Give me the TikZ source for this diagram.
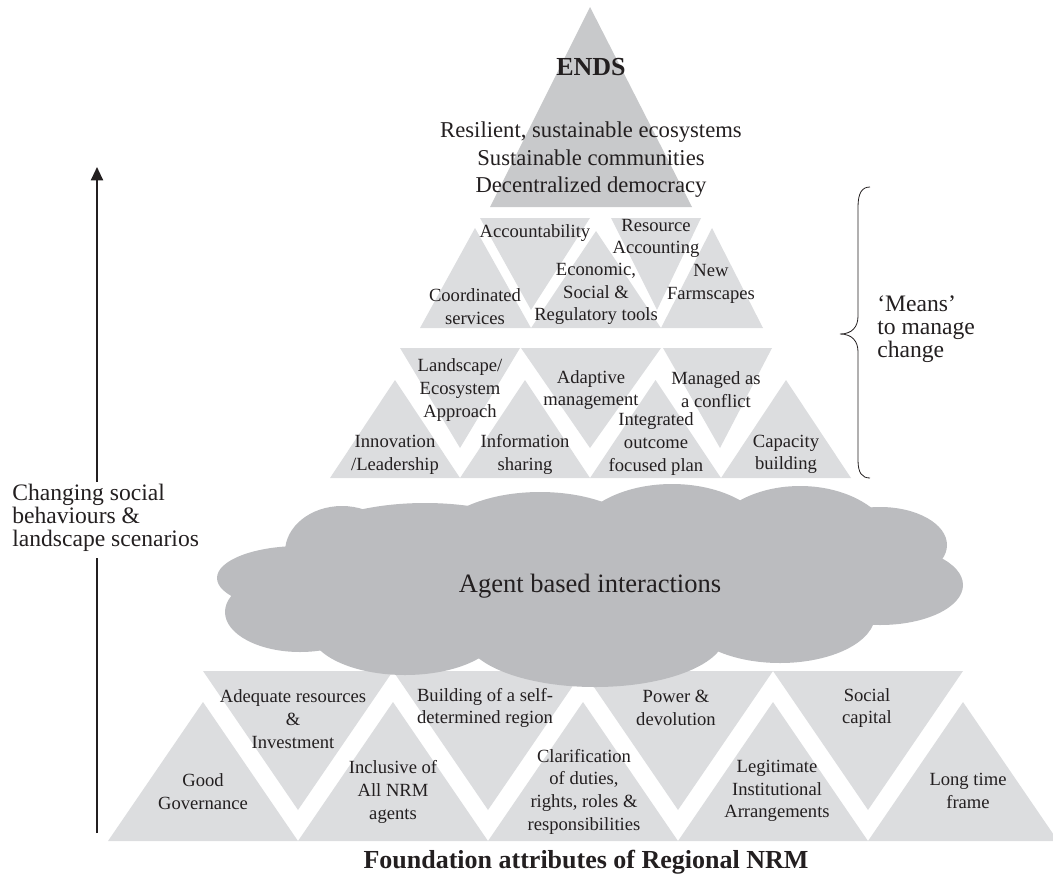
\documentclass[tikz,border=0pt]{standalone}
\usepackage{fontspec}
\setmainfont{Liberation Serif}
\usetikzlibrary{arrows.meta}
\definecolor{topgray}{HTML}{C8C9CB}
\definecolor{tiergray}{HTML}{DCDDDF}
\definecolor{cloudgray}{HTML}{BBBCBF}
\definecolor{txt}{HTML}{231F20}
\begin{document}
\begin{tikzpicture}[x=0.75pt,y=-0.75pt,
  tierfill/.style={fill=tiergray},
  topfill/.style={fill=topgray},
  cloudfill/.style={fill=cloudgray},
  lbl/.style={align=center,inner sep=0pt,text=txt,font=\fontsize{13.95}{17}\selectfont},
  endsl/.style={align=center,inner sep=0pt,text=txt,font=\fontsize{17}{20.6}\selectfont},
  sidel/.style={align=left,inner sep=0pt,text=txt,anchor=west,font=\fontsize{17.7}{17.3}\selectfont},
  boldl/.style={inner sep=0pt,text=txt,font=\bfseries\fontsize{19.5}{23}\selectfont},
  agentl/.style={inner sep=0pt,text=txt,font=\fontsize{19.9}{24}\selectfont},
  arrowline/.style={draw=txt,line width=1.5pt},
  bracestyle/.style={draw=txt,line width=0.6pt}]
\useasboundingbox (0,0) rectangle (1053,882);

% ---------- top triangle (ENDS)
\fill[topfill] (490,207) -- (590,7) -- (692,207) -- cycle;

% ---------- tier 2
\fill[tierfill] (420,328) -- (475,228) -- (531,328) -- cycle;   % coordinated
\fill[tierfill] (531,328) -- (596,231) -- (661,328) -- cycle;   % economic
\fill[tierfill] (661,328) -- (712,228) -- (763,328) -- cycle;   % farmscapes
\fill[tierfill] (480,218) -- (590,218) -- (531,310) -- cycle;   % accountability
\fill[tierfill] (611,218) -- (701,218) -- (657,310) -- cycle;   % resource

% ---------- tier 3
\foreach \a/\b in {330/460,460/590,590/721,721/851}{
  \fill[tierfill] (\a,478) -- ({(\a+\b)/2},380) -- (\b,478) -- cycle;}
\fill[tierfill] (400,348) -- (520,348) -- (460,448) -- cycle;   % landscape
\fill[tierfill] (521,348) -- (661,348) -- (590,448) -- cycle;   % adaptive
\fill[tierfill] (663,348) -- (772,348) -- (720,448) -- cycle;   % managed

% ---------- bottom row
\foreach \c in {203,393,583,773,963}{
  \fill[tierfill] (\c-95,841) -- (\c,702) -- (\c+95,841) -- cycle;}
\foreach \c in {203,393,583,773}{
  \fill[tierfill] (\c,671) -- (\c+190,671) -- (\c+95,810) -- cycle;}

% ---------- cloud
\begin{scope}[cloudfill]
\fill (300,578) ellipse [x radius=83,y radius=32];
\fill (300,612) ellipse [x radius=75,y radius=40];
\fill (342,552) ellipse [x radius=57,y radius=46];
\fill (425,562) ellipse [x radius=140,y radius=59];
\fill (540,548) ellipse [x radius=110,y radius=56];
\fill (672,545) ellipse [x radius=100,y radius=61];
\fill (800,550) ellipse [x radius=95,y radius=64];
\fill (880,545) ellipse [x radius=67,y radius=38];
\fill (880,585) ellipse [x radius=83,y radius=40];
\fill (780,615) ellipse [x radius=95,y radius=48];
\fill (595,635) ellipse [x radius=130,y radius=52];
\fill (405,630) ellipse [x radius=95,y radius=45];
\fill (300,578) -- (342,552) -- (425,562) -- (540,548) -- (672,545) -- (800,550) -- (880,545)
  -- (880,585) -- (780,615) -- (595,635) -- (405,630) -- (300,612) -- cycle;
\end{scope}

% ---------- texts top
\node[boldl] (ends) at (591,67) {ENDS};
\node[endsl] (endsgoals) at (591,160) {Resilient, sustainable ecosystems\\Sustainable communities\\Decentralized democracy};

% tier 2 texts
\node[lbl] (accountability) at (535,233) {Accountability};
\node[lbl] (resource) at (656,238.5) {Resource\\Accounting};
\node[lbl] (economic) at (596,294) {Economic,\\Social \&\\Regulatory tools};
\node[lbl] (coordinated) at (475,306.5) {Coordinated\\services};
\node[lbl] (farmscapes) at (711,284) {New\\Farmscapes};

% tier 3 texts
\node[lbl] (landscape) at (460,390) {Landscape/\\Ecosystem\\Approach};
\node[lbl] (adaptive) at (591,390) {Adaptive\\management};
\node[lbl] (managed) at (716,389.5) {Managed as\\a conflict};
\node[lbl] (innovation) at (395,454.5) {Innovation\\/Leadership};
\node[lbl] (information) at (525,454.5) {Information\\sharing};
\node[lbl] (integrated) at (656,444) {Integrated\\outcome\\focused plan};
\node[lbl] (capacity) at (786,454.5) {Capacity\\building};

% cloud text
\node[agentl] (agent) at (590,586) {Agent based interactions};

% bottom texts
\node[lbl] (good) at (203,791.5) {Good\\Governance};
\node[lbl] (adequate) at (293,719) {Adequate resources\\\&\\Investment};
\node[lbl] (inclusive) at (393,792) {Inclusive of\\All NRM\\agents};
\node[lbl] (building) at (485,708) {Building of a self-\\determined region};
\node[lbl] (clarification) at (584,791.5) {Clarification\\of duties,\\rights, roles \&\\responsibilities};
\node[lbl] (power) at (676,708) {Power \&\\devolution};
\node[lbl] (legitimate) at (777,791) {Legitimate\\Institutional\\Arrangements};
\node[lbl] (social) at (867,708) {Social\\capital};
\node[lbl] (longtime) at (968,791) {Long time\\frame};

\node[boldl] (foundation) at (586,862) {Foundation attributes of Regional NRM};

% ---------- side annotations
\node[sidel] (changing) at (12,518) {Changing social\\behaviours \&\\landscape scenarios};
\coordinate (arrowtop) at (97,167);
\coordinate (gaptop) at (97,482);
\coordinate (gapbot) at (97,558);
\coordinate (arrowbot) at (97,833);
\draw[arrowline,-{Triangle[length=10pt,width=9pt]}] (gaptop) -- (arrowtop);
\draw[arrowline] (arrowbot) -- (gapbot);

\draw[bracestyle] (870,187) .. controls (862,187) and (858,193) .. (858,207)
  -- (858,316) .. controls (858,327) and (852,334) .. (840,334)
  .. controls (852,334) and (858,341) .. (858,352)
  -- (858,460) .. controls (858,473) and (862,478) .. (870,478);
\node[sidel] (means) at (877,329) {`Means'\\to manage\\change};
\end{tikzpicture}
\end{document}
